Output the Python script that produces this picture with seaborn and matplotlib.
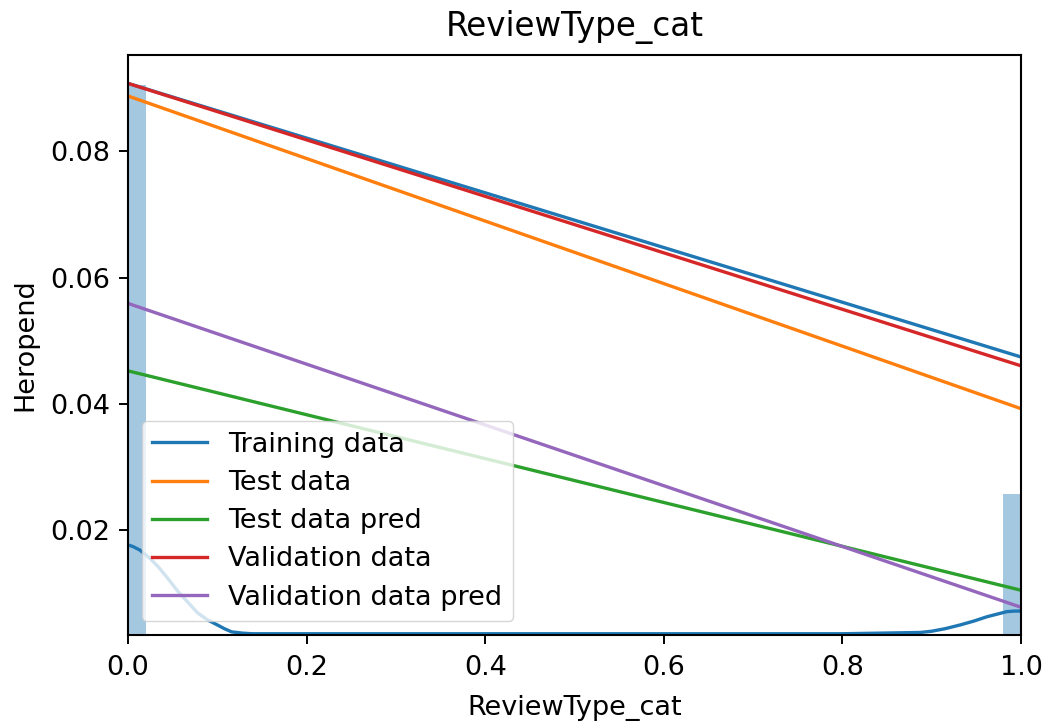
import numpy as np
import pandas as pd
import matplotlib
matplotlib.use("Agg")
import matplotlib.pyplot as plt
import seaborn as sns

# ---- data ----
series_names = ["Training data", "Test data", "Test data pred",
                "Validation data", "Validation data pred"]
line_x = [0.0, 1.0]
start_vals = [0.0908, 0.0888, 0.0452, 0.0908, 0.0559]
end_vals = [0.0474, 0.0392, 0.0104, 0.0460, 0.0077]

hist_x = [0.01, 0.99]          # bin centres of the two non-empty bins
hist_heights = [0.0905, 0.0257]

kde_x = [0.0, 0.006, 0.013, 0.025, 0.034, 0.045, 0.056, 0.067, 0.078,
         0.089, 0.100, 0.108, 0.116, 0.128, 0.139, 0.2, 0.4, 0.6, 0.8,
         0.887, 0.90, 0.915, 0.932, 0.947, 0.962, 0.973, 0.984, 0.993, 1.0]
kde_y = [0.0176, 0.0173, 0.0168, 0.0154, 0.0141, 0.0122, 0.0102, 0.0085,
         0.0068, 0.0057, 0.0049, 0.0043, 0.0038, 0.0036, 0.0035, 0.0035,
         0.0035, 0.0035, 0.0035, 0.0037, 0.0039, 0.0043, 0.0049, 0.0055,
         0.0062, 0.0066, 0.0070, 0.0071, 0.0071]

title = "ReviewType_cat"
xlabel = "ReviewType_cat"
ylabel = "Heropend"

# ---- drawing ----
plt.rcParams["font.family"] = ["DejaVu Sans"]
fig = plt.figure(figsize=(10.42, 7.26), dpi=100)
ax = fig.add_axes([128 / 1042, (726 - 635) / 726, 893 / 1042, 580 / 726])

colors = sns.color_palette("tab10")

sns.histplot(x=hist_x, weights=hist_heights, binwidth=0.02, binrange=(0, 1),
             color=colors[0], alpha=0.4, linewidth=0, ax=ax)
sns.lineplot(x=kde_x, y=kde_y, color=colors[0], linewidth=2.4, ax=ax)

for i, name in enumerate(series_names):
    sns.lineplot(x=line_x, y=[start_vals[i], end_vals[i]], color=colors[i],
                 linewidth=2.4, label=name, ax=ax)

ax.set_xlim(0, 1)
ax.set_ylim(0.0033, 0.0953)
ax.set_xticks([0.0, 0.2, 0.4, 0.6, 0.8, 1.0])
ax.set_yticks([0.02, 0.04, 0.06, 0.08])
ax.tick_params(labelsize=19.5, length=6.5, width=1.4, pad=6)
ax.tick_params(axis="x", pad=8)
for s in ax.spines.values():
    s.set_linewidth(1.5)

ax.set_title(title, fontsize=23.5, pad=14)
ax.set_xlabel(xlabel, fontsize=19.5, labelpad=10)
ax.set_ylabel(ylabel, fontsize=19.5, labelpad=9)

leg = ax.legend(loc="lower left", fontsize=19.5, borderaxespad=0.5,
                labelspacing=0.45, handlelength=2.0)

fig.savefig("out.png", dpi=100)
